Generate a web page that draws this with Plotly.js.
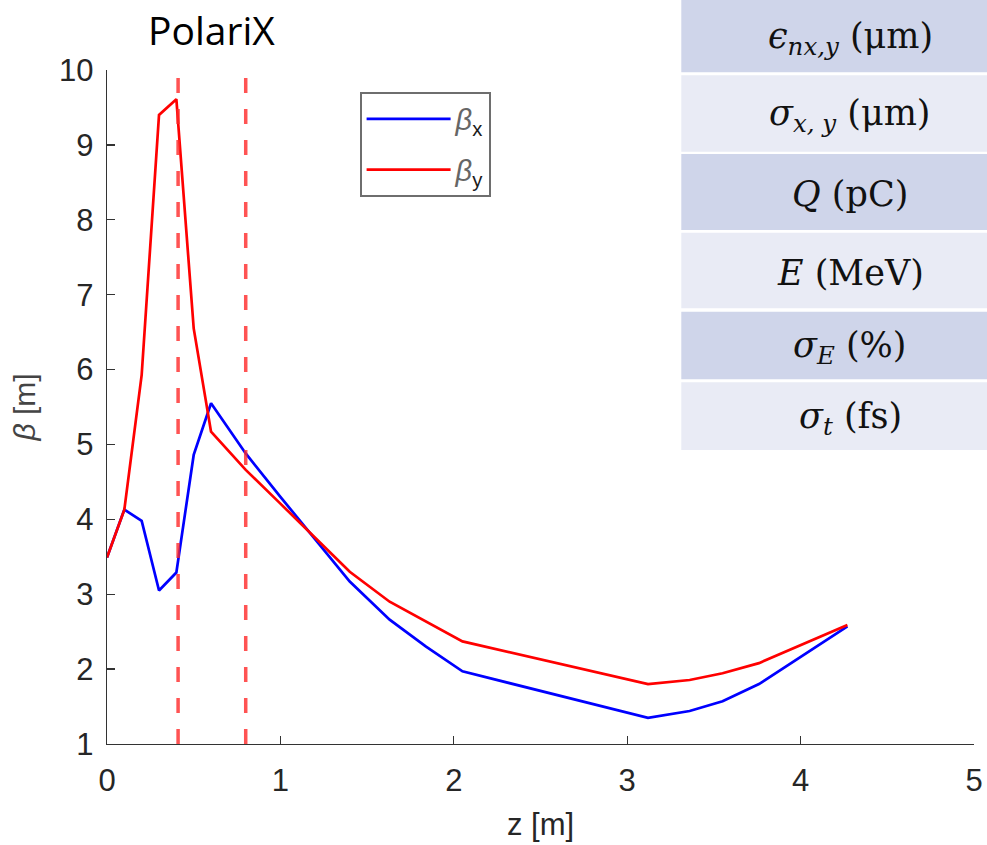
<!DOCTYPE html>
<html>
<head>
<meta charset="utf-8">
<script src="https://cdn.plot.ly/plotly-3.0.1.min.js"></script>
<style>
  html, body { margin: 0; padding: 0; background: #ffffff; }
  #chart { width: 987px; height: 845px; }
</style>
</head>
<body>
<div id="chart"></div>
<script>
// ---- data ----
const zPos   = [0, 0.1, 0.2, 0.3, 0.4, 0.5, 0.6, 0.8, 1.0, 1.2, 1.4, 1.63, 1.84, 2.05, 3.12, 3.36, 3.55, 3.76, 4.27];
const betaX  = [3.49, 4.13, 3.98, 3.05, 3.29, 4.86, 5.55, 4.88, 4.30, 3.74, 3.17, 2.66, 2.30, 1.97, 1.35, 1.44, 1.57, 1.80, 2.57];
const betaY  = [3.49, 4.13, 5.93, 9.40, 9.61, 6.55, 5.17, 4.66, 4.21, 3.76, 3.30, 2.90, 2.63, 2.37, 1.80, 1.855, 1.945, 2.08, 2.59];
const markerZ = [0.41, 0.80];          // dashed vertical marker positions
const markerSpan = [1, 10];            // vertical extent of markers (beta)
const xTicks = [0, 1, 2, 3, 4, 5];
const yTicks = [1, 2, 3, 4, 5, 6, 7, 8, 9, 10];
const seriesNames = ['<i>β</i><sub><span style="color:#1a1a1a">x</span></sub>',
                     '<i>β</i><sub><span style="color:#1a1a1a">y</span></sub>'];
const tableLabels = [
  "<i>ϵ</i><sub><i>nx,y</i></sub> (μm)",
  "<i>σ</i><sub><i>x, y</i></sub> (μm)",
  "<i>Q</i> (pC)",
  "<i>E</i> (MeV)",
  "<i>σ</i><sub><i>E</i></sub> (%)",
  "<i>σ</i><sub><i>t</i></sub> (fs)"
];
const titleText = "PolariX";

// ---- geometry helpers (pixel -> paper) ----
const W = 987, H = 845;
const M = {l: 107, r: 13, t: 70, b: 101};
const pw = W - M.l - M.r, ph = H - M.t - M.b;
const px2x = p => (p - M.l) / pw;
const py2y = p => (H - M.b - p) / ph;

const traces = [];
traces.push({
  x: zPos, y: betaX, type: 'scatter', mode: 'lines', name: seriesNames[0],
  line: {color: '#0000ff', width: 2.7}, legendgroup: 'a'
});
traces.push({
  x: zPos, y: betaY, type: 'scatter', mode: 'lines', name: seriesNames[1],
  line: {color: '#ff0000', width: 2.7}, legendgroup: 'b'
});
markerZ.forEach(z => {
  traces.push({
    x: [z, z], y: markerSpan, type: 'scatter', mode: 'lines', showlegend: false,
    hoverinfo: 'skip',
    line: {color: 'rgba(255,40,40,0.8)', width: 3.5, dash: '15px,16px'}
  });
});

// table rows (pixel top/bottom)
const rowTops = [0, 75.3, 154, 232.7, 311.7, 382.3];
const rowBots = [72.3, 151.7, 230, 308.3, 379.3, 450];
const rowFill = ['#cfd5ea', '#e9ebf5', '#cfd5ea', '#e9ebf5', '#cfd5ea', '#e9ebf5'];
const shapes = [];
const annotations = [];
tableLabels.forEach((lab, i) => {
  shapes.push({
    type: 'rect', xref: 'paper', yref: 'paper', layer: 'above',
    x0: px2x(681.3), x1: px2x(1000), y0: py2y(rowBots[i]), y1: py2y(rowTops[i]),
    fillcolor: rowFill[i], line: {width: 0}
  });
  annotations.push({
    xref: 'paper', yref: 'paper', x: px2x(850), y: py2y((rowTops[i] + rowBots[i]) / 2 + 2),
    xanchor: 'center', yanchor: 'middle', showarrow: false, text: lab,
    font: {family: 'DejaVu Serif, Liberation Serif, serif', size: 35, color: '#111111'}
  });
});
annotations.push({
  xref: 'paper', yref: 'paper', x: px2x(211), y: py2y(29),
  xanchor: 'center', yanchor: 'middle', showarrow: false, text: titleText,
  font: {family: 'Open Sans, sans-serif', size: 39, color: '#000000'}
});

const layout = {
  width: W, height: H,
  margin: M,
  paper_bgcolor: '#ffffff', plot_bgcolor: '#ffffff',
  showlegend: true,
  legend: {
    x: px2x(360), y: py2y(92), xanchor: 'left', yanchor: 'top',
    bgcolor: '#ffffff', bordercolor: '#6e6e6e', borderwidth: 1.6,
    font: {family: 'Liberation Sans, Arial, sans-serif', size: 29, color: '#666666'},
    itemwidth: 84, traceorder: 'grouped', tracegroupgap: 10
  },
  xaxis: {
    range: [0, 5], tickvals: xTicks, ticks: 'inside', ticklen: 8, tickwidth: 1.3,
    tickcolor: '#333333', showline: true, linecolor: '#333333', linewidth: 1.3,
    showgrid: false, zeroline: false, mirror: false,
    tickfont: {family: 'Liberation Sans, Arial, sans-serif', size: 31, color: '#262626'},
    ticklabelstandoff: 8,
    title: {text: 'z [m]', font: {family: 'Liberation Sans, Arial, sans-serif', size: 31, color: '#262626'}, standoff: 16}
  },
  yaxis: {
    range: [1, 10], tickvals: yTicks, ticks: 'inside', ticklen: 8, tickwidth: 1.3,
    tickcolor: '#333333', showline: true, linecolor: '#333333', linewidth: 1.3,
    showgrid: false, zeroline: false, mirror: false,
    tickfont: {family: 'Liberation Sans, Arial, sans-serif', size: 31, color: '#262626'},
    ticklabelstandoff: 6,
    title: {text: '<i>β</i> [m]', font: {family: 'Liberation Sans, Arial, sans-serif', size: 30, color: '#444444'}, standoff: 14}
  },
  shapes: shapes,
  annotations: annotations
};

Plotly.newPlot('chart', traces, layout, {displayModeBar: false, staticPlot: true});
</script>
</body>
</html>
